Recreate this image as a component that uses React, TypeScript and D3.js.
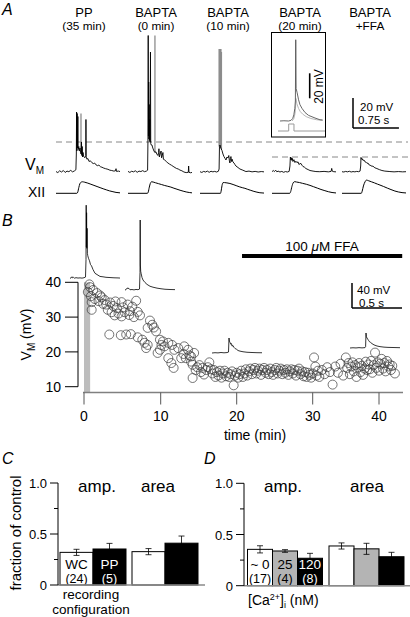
import React from "react";
import * as d3 from "d3";

const FONT = "'Liberation Sans', Arial, Helvetica, sans-serif";

// ---------------- Panel A data ----------------
const titlesA = ["PP", "BAPTA", "BAPTA", "BAPTA", "BAPTA"];
const subtitlesA = ["(35 min)", "(0 min)", "(10 min)", "(20 min)", "+FFA"];

// membrane potential traces [ms, mV above baseline]
const ppVm = [[0,0.3],[30,-0.4],[60,0.8],[90,0],[120,1.0],[150,-0.3],[180,0.6],[210,0.2],[240,1.1],[270,0.1],[300,0.7],[325,1.5],[332,12],[336,40],[340,14],[346,39],[351,16],[357,37],[362,15],[372,17],[380,14],[392,16],[400,13],[410,12],[416,20],[421,11],[428,17],[434,10],[442,13],[450,10.5],[470,9.5],[486,11],[489,35],[493,10],[505,8.5],[520,9],[540,7],[560,7.5],[587,6.2],[610,5.6],[630,6],[652,4.8],[680,4.2],[700,4.6],[730,3.4],[750,3.2],[780,2.6],[810,2.2],[848,1.8],[880,1.2],[910,1.0],[945,0.6],[970,0.8],[980,2.2],[988,0.4],[1020,0.6],[1045,0.3]];
const bapta0Vm = [[0,0.4],[30,-0.3],[60,0.5],[90,0.1],[120,0.8],[150,-0.2],[180,0.6],[210,0.3],[240,0.9],[270,0.2],[300,0.6],[320,1.2],[326,22],[330,91],[334,24],[338,60],[342,22],[346,45],[350,21],[355,35],[360,20],[367,80],[371,19],[380,18],[391,18],[405,16],[424,14],[440,13],[456,13.5],[470,12],[489,11],[500,13],[505,15.5],[512,10],[525,12],[540,14],[548,9.5],[560,11],[570,13],[578,8.5],[600,8],[625,7],[652,6],[680,5.2],[710,4.5],[750,3.4],[790,2.4],[820,2.0],[848,1.3],[880,0.8],[913,0],[950,-0.4],[985,-0.2],[990,4],[996,-0.2],[1020,-0.5],[1045,-0.3]];
const bapta10Vm = [[0,0.2],[30,-0.3],[60,0.4],[90,0],[120,0.6],[150,-0.2],[180,0.5],[210,0.1],[240,0.4],[270,0],[300,0.5],[312,2],[318,17],[326,18],[340,16],[359,14.3],[375,12],[391,10.3],[410,9],[424,8],[440,10],[456,9.3],[470,11],[480,7.5],[489,6],[497,9],[505,10.3],[515,7],[525,8.5],[538,6.7],[555,6],[570,5],[587,4],[620,3],[652,2],[700,1.2],[750,0.3],[800,0.6],[850,0.1],[900,0.4],[950,0],[1000,0.3],[1045,0.1]];
const bapta20Vm = [[0,0.2],[20,1.0],[40,0.3],[60,1.2],[80,0.1],[100,0.6],[130,0],[160,0.4],[190,-0.2],[220,0.3],[250,0],[280,0.4],[293,4],[300,10],[310,8],[318,9.5],[326,7.7],[334,9],[342,7],[358,8.2],[375,6.3],[390,7.2],[408,6.2],[425,6.8],[440,5],[456,5.5],[473,5.7],[490,4.5],[505,3.7],[530,3.2],[554,2.3],[590,1.6],[620,1],[670,0.6],[717,0.3],[780,0.2],[850,0.4],[920,0.1],[965,0.4],[975,2.4],[985,0.5],[1010,0.2],[1045,0.1]];
const ffaVm = [[0,0.2],[30,0],[60,0.4],[90,0.1],[120,0.5],[150,0],[180,0.3],[210,0.1],[240,0.4],[270,0.2],[295,0.6],[305,4],[310,9.7],[318,8.5],[326,9],[342,7.8],[359,8],[375,6.8],[391,6.6],[408,5.8],[424,6],[440,4.8],[456,4.6],[473,4.2],[490,3.8],[505,3.9],[537,2.8],[570,2.3],[610,1.6],[652,1],[700,0.6],[782,0.3],[850,0.1],[920,0.3],[990,0.1],[1045,0.2]];

// overlaid spikes of a second sweep (grey) [ms, from mV, to mV]
const ppGraySpikes = [[408, 13, 39]];
const bapta0GraySpikes = [[440, 13, 91]];
const bapta10GraySpikes = [[312, 17, 82], [322, 17, 82], [332, 17, 82], [342, 16, 82], [350, 15, 80]];

// hypoglossal (XII) nerve traces [ms, a.u.]
const ppXII = [[0,0],[340,0],[355,0.1],[372,0.5],[390,0.85],[410,0.98],[430,1.02],[470,0.98],[520,0.9],[570,0.8],[620,0.7],[670,0.6],[720,0.5],[770,0.4],[820,0.31],[870,0.22],[930,0.14],[980,0.08],[1045,0.04]];
const bapta0XII = [[0,0],[318,0],[330,0.1],[348,0.55],[365,0.88],[385,1.02],[410,1.0],[450,0.93],[500,0.85],[550,0.77],[600,0.69],[650,0.62],[700,0.55],[750,0.45],[800,0.36],[850,0.27],[900,0.19],[950,0.12],[1000,0.07],[1045,0.04]];
const bapta10XII = [[0,0],[335,0],[345,0.2],[360,0.7],[375,0.94],[400,0.95],[440,0.92],[489,0.87],[540,0.78],[590,0.68],[640,0.58],[690,0.5],[733,0.44],[780,0.35],[830,0.26],[880,0.17],[930,0.1],[978,0.05],[1045,0.02]];
const bapta20XII = [[0,0],[290,0],[305,0.15],[325,0.6],[345,0.92],[370,1.03],[400,1.0],[450,0.95],[500,0.88],[560,0.8],[620,0.7],[680,0.58],[740,0.46],[800,0.34],[864,0.23],[920,0.14],[980,0.07],[1045,0.03]];
const ffaXII = [[0,0],[315,0],[330,0.2],[350,0.65],[375,1.0],[400,1.17],[430,1.12],[480,1.02],[530,0.92],[580,0.81],[620,0.73],[680,0.6],[740,0.46],[800,0.33],[864,0.2],[920,0.12],[980,0.06],[1045,0.03]];

const thresholdsA = [20, 10]; // mV, dashed reference levels

// inset of panel A [ms, mV]
const insetMain = [[1.7,0],[5,0.2],[9,0],[11,0.5],[12.5,2],[13.5,5],[14.3,10],[14.8,16],[15.1,65],[15.4,26],[16.2,23],[17.5,17],[18.7,13],[20.5,10],[23,6.8],[26,4.5],[31.5,2.4],[35.7,1],[38,0.8]];
const insetGray = [[12,0],[13.5,2],[14.5,6],[15,12],[15.3,18],[16,14],[17.5,10],[19,7.5],[21,5.5],[24,3.5],[28,2],[33,1],[38,0.5]];
const insetStep = [[0,0],[9.1,0],[9.1,1],[13.6,1],[13.6,0],[40,0]];

// ---------------- Panel B data ----------------
// [time (min), Vm (mV)]
const vmPoints = [
[0.5,37.2],[0.7,39.4],[0.8,38.6],[0.9,36.0],[1.0,34.3],[1.0,32.1],[1.2,37.8],[1.4,35.2],[1.7,36.9],[1.9,34.6],[2.1,36.2],[2.3,35.7],[2.5,33.8],[2.7,34.9],[2.9,33.6],[3.1,32.1],[3.3,25.0],[3.4,34.2],[3.6,31.4],[3.8,33.2],[4.0,30.5],[4.1,34.5],[4.3,32.6],[4.5,31.0],[4.8,24.8],[4.9,34.3],[4.9,30.2],[5.1,32.8],[5.3,31.4],[5.5,25.0],[5.7,33.6],[5.9,30.6],[6.1,25.1],[6.0,31.7],[6.3,33.0],[6.5,30.0],[6.8,34.7],[7.0,31.5],[7.0,24.2],[7.3,30.5],[7.6,23.5],[7.9,22.6],[8.1,21.1],[8.3,26.9],[8.3,22.0],[8.6,29.0],[8.9,27.8],[9.1,27.0],[9.4,25.9],[9.6,19.7],[9.9,23.5],[9.9,20.6],[10.1,22.0],[10.3,23.0],[10.5,21.6],[11.0,22.6],[11.0,18.2],[11.4,16.8],[11.5,22.0],[11.7,15.4],[11.8,20.6],[12.3,21.1],[12.7,18.2],[13.0,19.4],[13.1,21.6],[13.3,18.2],[13.6,20.6],[13.8,19.0],[14.0,18.7],[14.0,17.2],[14.2,12.5],[14.2,16.3],[14.4,19.7],[14.6,14.8],[14.8,15.6],[15.1,16.2],[15.3,14.2],[15.5,15.4],[15.7,13.5],[16.0,14.8],
[16.2,15.6],[16.4,17.0],[16.6,15.0],[16.8,13.8],[17.0,14.8],[17.2,12.8],[17.4,14.2],[17.6,13.2],[17.8,14.6],[18.0,12.6],[18.2,13.8],[18.4,14.6],[18.6,13.0],[18.8,14.0],[19.0,12.8],[19.2,13.6],[19.4,14.4],[19.6,10.4],[19.8,13.2],[20.0,14.0],[20.2,12.6],[20.4,13.6],[20.6,14.6],[20.8,12.8],[21.0,13.8],[21.2,15.0],[21.4,13.2],[21.6,14.4],[21.8,15.2],[22.0,13.6],[22.2,14.8],[22.4,15.4],[22.6,13.8],[22.8,14.6],[23.0,15.2],[23.2,13.4],[23.4,14.8],[23.6,15.4],[23.8,14.0],[24.0,14.8],[24.2,13.6],[24.4,15.2],[24.6,14.2],[24.8,13.4],[25.0,14.8],[25.2,15.4],[25.4,13.8],[25.6,14.6],[25.8,15.2],[26.0,13.6],[26.2,14.8],[26.4,14.0],[26.6,15.0],[26.8,13.4],[27.0,14.4],[27.2,15.0],[27.4,13.8],[27.6,14.8],[27.8,13.2],[28.0,14.6],[28.2,15.2],[28.4,13.6],[28.6,14.4],[28.8,13.0],[29.0,14.2],[29.2,12.8],[29.4,14.0],[29.6,13.4],[29.8,12.6],[30.0,13.8],[30.2,18.4],[30.4,15.8],[30.6,13.2],[30.8,14.6],[31.0,12.8],[31.4,14.8],[31.8,13.6],[32.2,15.6],[32.6,14.2],[33.0,10.6],[33.4,15.8],[33.8,14.0],[34.2,16.6],[34.6,13.2],[35.0,18.4],[35.2,15.4],[35.4,16.8],[35.6,13.6],[35.8,15.8],[36.0,17.0],[36.2,14.4],[36.4,16.2],[36.6,12.8],[36.8,15.6],[37.0,16.8],[37.2,14.2],[37.4,16.0],[37.6,13.4],[37.8,15.2],[38.0,17.2],[38.2,14.8],[38.4,16.4],[38.6,15.0],[38.8,17.4],[39.0,14.0],[39.2,16.2],[39.4,19.8],[39.6,15.4],[39.8,17.0],[40.0,14.6],[40.2,16.6],[40.4,18.0],[40.6,15.2],[40.8,16.8],[41.0,14.4],[41.2,17.4],[41.4,15.8],[41.6,16.4],[41.8,14.8],[42.0,16.0],[42.4,13.8]
];
const timeTicksB = [0, 10, 20, 30, 40];
const vmTicksB = [10, 20, 30, 40];
const puffInterval = [0, 0.8];     // grey bar (min)
const puffTopMv = 40;
const ffaInterval = [20.7, 43.5];  // 100 uM FFA application (min)

// example sweeps above the scatter [ms, mV]
const sweepB1 = [[0,0],[10,0.6],[20,2.5],[25,0.8],[35,1.5],[45,0.2],[60,1],[80,0.4],[100,0.7],[120,0.3],[140,0.9],[155,2],[160,30],[162,117],[164,50],[166,105],[168,48],[171,80],[174,40],[178,36],[185,32],[195,28],[205,22],[215,20],[230,14],[250,8],[270,6],[300,3],[330,2.4],[360,1.6],[400,1.2],[440,0.8],[480,0.6],[500,0.4]];
const sweepB2 = [[0,0],[10,0.5],[20,3],[40,2.5],[50,0.4],[70,0.8],[90,0.2],[110,0.9],[130,0.5],[145,1.5],[150,28],[152,112],[154,40],[157,30],[162,26],[170,20],[180,16],[200,12],[220,9],[250,6],[280,4.5],[320,3],[360,2],[400,1.2],[450,0.8],[500,0.6]];
const sweepB3 = [[0,0],[30,0.5],[60,0.2],[90,0.8],[120,0.3],[150,0.7],[165,1.5],[170,24],[174,19],[180,17],[188,14],[195,15],[200,11],[210,12],[220,9],[232,7],[245,6],[260,4],[280,3],[310,2],[350,1.2],[400,0.8],[450,0.5],[500,0.4]];
const sweepB4 = [[0,0],[30,0.4],[60,0.1],[90,0.6],[120,0.2],[150,0.6],[156,2],[160,24],[164,18],[170,16],[178,14],[186,12],[195,10],[205,9],[220,7],[240,5],[270,3.2],[300,2.2],[340,1.4],[380,1],[430,0.8],[500,0.5]];

// ---------------- Panel C data ----------------
const cLabels = ["WC", "PP"];
const cCounts = ["(24)", "(5)"];
const cAmp = [0.32, 0.353];
const cAmpErr = [0.03, 0.055];
const cArea = [0.327, 0.41];
const cAreaErr = [0.03, 0.07];

// ---------------- Panel D data ----------------
const dLabels = ["~ 0", "25", "120"];
const dCounts = ["(17)", "(4)", "(8)"];
const dAmp = [0.355, 0.339, 0.268];
const dAmpErr = [0.035, 0.013, 0.048];
const dArea = [0.388, 0.36, 0.283];
const dAreaErr = [0.03, 0.054, 0.043];
const fracTicks = [0, 0.25, 0.5, 0.75, 1.0];

const vmTracesA = [ppVm, bapta0Vm, bapta10Vm, bapta20Vm, ffaVm];
const graySpikesA = [ppGraySpikes, bapta0GraySpikes, bapta10GraySpikes, [], []];
const xiiTracesA = [ppXII, bapta0XII, bapta10XII, bapta20XII, ffaXII];
const sweepsB = [sweepB1, sweepB2, sweepB3, sweepB4];

function BarPanel({ axisX, y, groups, errs, labels, counts, fills, textFills, barW, starts, axisEnd, id }) {
  const clipId = id;
  const tickFmt = (v) => (v === 0 ? "0" : d3.format(".1f")(v));
  return (
    <g>
      {groups.map((vals, gi) =>
        vals.map((v, i) => {
          const x = starts[gi] + i * barW;
          const cx = x + barW / 2;
          const e = errs[gi][i];
          return (
            <g key={`b${gi}-${i}`}>
              <clipPath id={`${clipId}-${gi}-${i}`}>
                <rect x={x} y={y(v)} width={barW} height={y(0) - y(v)} />
              </clipPath>
              <rect x={x} y={y(v)} width={barW} height={y(0) - y(v)} fill={fills[i]} stroke="#000" strokeWidth={1} />
              <line x1={cx} x2={cx} y1={y(v - e)} y2={y(v + e)} stroke="#000" strokeWidth={0.8} />
              <line x1={cx - 3} x2={cx + 3} y1={y(v + e)} y2={y(v + e)} stroke="#000" strokeWidth={0.8} />
              <line x1={cx - 3} x2={cx + 3} y1={y(v - e)} y2={y(v - e)} stroke="#000" strokeWidth={0.8} />
              {gi === 0 && (
                <g clipPath={`url(#${clipId}-${gi}-${i})`} fill={textFills[i]}>
                  <text x={labels[i] === "120" ? x + 1 : cx} y={568.5} fontSize={13.5} textAnchor={labels[i] === "120" ? "start" : "middle"}>{labels[i]}</text>
                  <text x={cx} y={583} textAnchor="middle" fontSize={12.5}>{counts[i]}</text>
                </g>
              )}
            </g>
          );
        })
      )}
      <line x1={axisX} x2={axisEnd} y1={y(0)} y2={y(0)} stroke="#8a8a8a" strokeWidth={1.5} />
      <line x1={axisX} x2={axisX} y1={y(1)} y2={y(0)} stroke="#000" strokeWidth={1} />
      {fracTicks.map((t) => {
        const major = t === 0 || t === 0.5 || t === 1;
        return (
          <g key={t}>
            <line x1={axisX - (major ? 8 : 4)} x2={axisX} y1={y(t)} y2={y(t)} stroke="#000" strokeWidth={1} />
            {major && (
              <text x={axisX - 11} y={y(t) + 5} textAnchor="end" fontSize={13}>{tickFmt(t)}</text>
            )}
          </g>
        );
      })}
    </g>
  );
}

export default function App() {
  // ---------- Panel A scales ----------
  const segStartsA = [56, 128, 200, 272, 342];
  const segW = 64;
  const yVmA = d3.scaleLinear().domain([0, 20]).range([172, 142]);
  const yXII = d3.scaleLinear().domain([0, 1]).range([193.3, 182]);
  const xSegs = segStartsA.map((s) => d3.scaleLinear().domain([0, 1045]).range([s, s + segW]));

  // inset of A
  const xIn = d3.scaleLinear().domain([0, 40]).range([278, 325]);
  const yIn = d3.scaleLinear().domain([0, 20]).range([121, 96]);
  const yInStep = d3.scaleLinear().domain([0, 1]).range([131, 124]);
  const lineIn = d3.line().x((d) => xIn(d[0])).y((d) => yIn(d[1]));
  const lineStep = d3.line().x((d) => xIn(d[0])).y((d) => yInStep(d[1]));

  // A scale bar: 20 mV, 0.75 s
  const sbAx = 353;
  const sbAy = 128;
  const pxPerMsA = (xSegs[0](1000) - xSegs[0](0)) / 1000;

  // ---------- Panel B scales ----------
  const xB = d3.scaleLinear().domain(timeTicksB).range([84, 160.7, 236.7, 312.7, 379]);
  const yB = d3.scaleLinear().domain([10, 40]).range([386.7, 282.3]);
  const axisYB = 392.5;
  const sweepStarts = [70, 125, 212, 350];
  const sweepBase = [278.3, 290, 353, 348];
  const ySweepUnit = d3.scaleLinear().domain([0, 40]).range([0, 25]);
  const xSweepUnit = d3.scaleLinear().domain([0, 500]).range([0, 50]);

  // ---------- Panel C/D scales ----------
  const yC = d3.scaleLinear().domain([0, 1]).range([585, 483]);
  const yD = d3.scaleLinear().domain([0, 1]).range([585.7, 483.3]);

  return (
    <svg
      width={410}
      height={617}
      style={{ position: "absolute", left: 0, top: 0, background: "#fff" }}
      fontFamily={FONT}
    >
      <rect x={0} y={0} width={410} height={617} fill="#fff" />

      {/* ================= PANEL A ================= */}
      <text x={2} y={15} fontSize={16} fontStyle="italic">A</text>
      {titlesA.map((t, i) => (
        <g key={`tA${i}`}>
          <text x={segStartsA[i] + 28} y={16.7} fontSize={13} textAnchor="middle">{t}</text>
          <text x={segStartsA[i] + 28} y={30.2} fontSize={11.8} textAnchor="middle">{subtitlesA[i]}</text>
        </g>
      ))}
      {/* dashed reference lines */}
      <line x1={56} x2={408} y1={yVmA(thresholdsA[0])} y2={yVmA(thresholdsA[0])} stroke="#888" strokeWidth={1} strokeDasharray="6,4" />
      <line x1={272} x2={408} y1={yVmA(thresholdsA[1])} y2={yVmA(thresholdsA[1])} stroke="#888" strokeWidth={1} strokeDasharray="6,4" />

      {vmTracesA.map((tr, i) => {
        const xs = xSegs[i];
        const ln = d3.line().x((d) => xs(d[0])).y((d) => yVmA(d[1]));
        return (
          <g key={`vm${i}`}>
            {graySpikesA[i].map((s, k) => (
              <line key={k} x1={xs(s[0])} x2={xs(s[0])} y1={yVmA(s[1])} y2={yVmA(s[2])} stroke="#8c8c8c" strokeWidth={1.3} />
            ))}
            <path d={ln(tr)} fill="none" stroke="#000" strokeWidth={0.9} strokeLinejoin="round" />
          </g>
        );
      })}
      {xiiTracesA.map((tr, i) => {
        const xs = xSegs[i];
        const ln = d3.line().x((d) => xs(d[0])).y((d) => yXII(d[1])).curve(d3.curveMonotoneX);
        return <path key={`xii${i}`} d={ln(tr)} fill="none" stroke="#000" strokeWidth={1} />;
      })}
      <text x={25} y={170} fontSize={16}>V<tspan dy={4} fontSize={10}>M</tspan></text>
      <text x={28} y={196.5} fontSize={14}>XII</text>

      {/* inset */}
      <rect x={271.5} y={32.5} width={54} height={104.5} fill="#fff" stroke="#000" strokeWidth={1} />
      <path d={lineStep(insetStep)} fill="none" stroke="#9a9a9a" strokeWidth={1} />
      <path d={lineIn(insetGray)} fill="none" stroke="#b8b8b8" strokeWidth={1} />
      <path d={lineIn(insetMain)} fill="none" stroke="#555" strokeWidth={0.9} />
      <line x1={309.7} x2={309.7} y1={98.3} y2={98.3 - (yIn(0) - yIn(20))} stroke="#000" strokeWidth={1.6} />
      <text transform="translate(322.5,86.5) rotate(-90)" fontSize={12} textAnchor="middle">20 mV</text>

      {/* A scale bar */}
      <line x1={sbAx} x2={sbAx} y1={sbAy} y2={sbAy - (yVmA(0) - yVmA(20))} stroke="#000" strokeWidth={1.5} />
      <line x1={sbAx} x2={sbAx + 750 * pxPerMsA} y1={sbAy} y2={sbAy} stroke="#000" strokeWidth={1.5} />
      <text x={360} y={111} fontSize={11.5}>20 mV</text>
      <text x={358} y={123.5} fontSize={11.5}>0.75 s</text>

      {/* ================= PANEL B ================= */}
      <text x={2} y={226} fontSize={16} fontStyle="italic">B</text>
      {sweepsB.map((sw, i) => {
        const ln = d3.line()
          .x((d) => sweepStarts[i] + xSweepUnit(d[0]))
          .y((d) => sweepBase[i] - ySweepUnit(d[1]));
        return <path key={`sw${i}`} d={ln(sw)} fill="none" stroke="#000" strokeWidth={0.8} />;
      })}
      {/* FFA bar */}
      <line x1={xB(ffaInterval[0])} x2={xB(ffaInterval[1])} y1={256} y2={256} stroke="#000" strokeWidth={4} />
      <text x={322} y={251} fontSize={13.5} textAnchor="middle">100 <tspan fontStyle="italic">μ</tspan>M FFA</text>
      {/* B scale bar */}
      <line x1={352} x2={352} y1={308} y2={308 - ySweepUnit(40)} stroke="#000" strokeWidth={1.5} />
      <line x1={352} x2={352 + xSweepUnit(500)} y1={308} y2={308} stroke="#000" strokeWidth={1.5} />
      <text x={357} y={294} fontSize={11.5}>40 mV</text>
      <text x={359} y={306.5} fontSize={11.5}>0.5 s</text>

      {/* grey puff bar */}
      <rect x={xB(puffInterval[0])} y={yB(puffTopMv)} width={xB(puffInterval[1]) - xB(puffInterval[0])} height={axisYB - yB(puffTopMv)} fill="#bdbdbd" />
      {/* points */}
      {vmPoints.map((p, i) => (
        <circle key={`p${i}`} cx={xB(p[0])} cy={yB(p[1])} r={4.5} fill="none" stroke="#3a3a3a" strokeWidth={0.7} />
      ))}
      {/* y axis */}
      <line x1={78} x2={78} y1={yB(40)} y2={yB(10)} stroke="#000" strokeWidth={1} />
      {vmTicksB.map((t) => (
        <g key={`yt${t}`}>
          <line x1={65} x2={78} y1={yB(t)} y2={yB(t)} stroke="#000" strokeWidth={1} />
          <text x={61} y={yB(t) + 5} fontSize={14} textAnchor="end">{t}</text>
        </g>
      ))}
      <text transform={`translate(31,${(yB(40) + yB(10)) / 2}) rotate(-90)`} fontSize={14} textAnchor="middle">
        V<tspan dy={3.5} fontSize={10}>M</tspan><tspan dy={-3.5}> (mV)</tspan>
      </text>
      {/* x axis */}
      <line x1={83} x2={403} y1={axisYB} y2={axisYB} stroke="#808080" strokeWidth={1.3} />
      {timeTicksB.map((t) => (
        <g key={`xt${t}`}>
          <line x1={xB(t)} x2={xB(t)} y1={axisYB} y2={axisYB + 12} stroke="#555" strokeWidth={1} />
          <text x={xB(t)} y={421} fontSize={14} textAnchor="middle">{t}</text>
        </g>
      ))}
      <text x={255} y={440} fontSize={14} textAnchor="middle">time (min)</text>

      {/* ================= PANEL C ================= */}
      <text x={2} y={464} fontSize={16} fontStyle="italic">C</text>
      <BarPanel
        id="cclip"
        axisX={58}
        axisEnd={205}
        y={yC}
        groups={[cAmp, cArea]}
        errs={[cAmpErr, cAreaErr]}
        labels={cLabels}
        counts={cCounts}
        fills={["#fff", "#000"]}
        textFills={["#000", "#fff"]}
        barW={33}
        starts={[60, 132]}
      />
      <text x={97} y={492} fontSize={17} textAnchor="middle">amp.</text>
      <text x={158} y={492} fontSize={17} textAnchor="middle">area</text>
      <text transform="translate(21,533) rotate(-90)" fontSize={15} textAnchor="middle">fraction of control</text>
      <text x={91} y={599.3} fontSize={13.5} textAnchor="middle">recording</text>
      <text x={91} y={614} fontSize={13.5} textAnchor="middle">configuration</text>

      {/* ================= PANEL D ================= */}
      <text x={204} y={464} fontSize={16} fontStyle="italic">D</text>
      <BarPanel
        id="dclip"
        axisX={244}
        axisEnd={410}
        y={yD}
        groups={[dAmp, dArea]}
        errs={[dAmpErr, dAreaErr]}
        labels={dLabels}
        counts={dCounts}
        fills={["#fff", "#b4b4b4", "#000"]}
        textFills={["#000", "#000", "#fff"]}
        barW={25}
        starts={[247.5, 329]}
      />
      <text x={283} y={492} fontSize={17} textAnchor="middle">amp.</text>
      <text x={367} y={492} fontSize={17} textAnchor="middle">area</text>
      <text x={248} y={605} fontSize={14}>
        [Ca<tspan dy={-5} fontSize={9}>2+</tspan><tspan dy={5}>]</tspan><tspan dy={3} fontSize={9}>i</tspan><tspan dy={-3}> (nM)</tspan>
      </text>
    </svg>
  );
}
